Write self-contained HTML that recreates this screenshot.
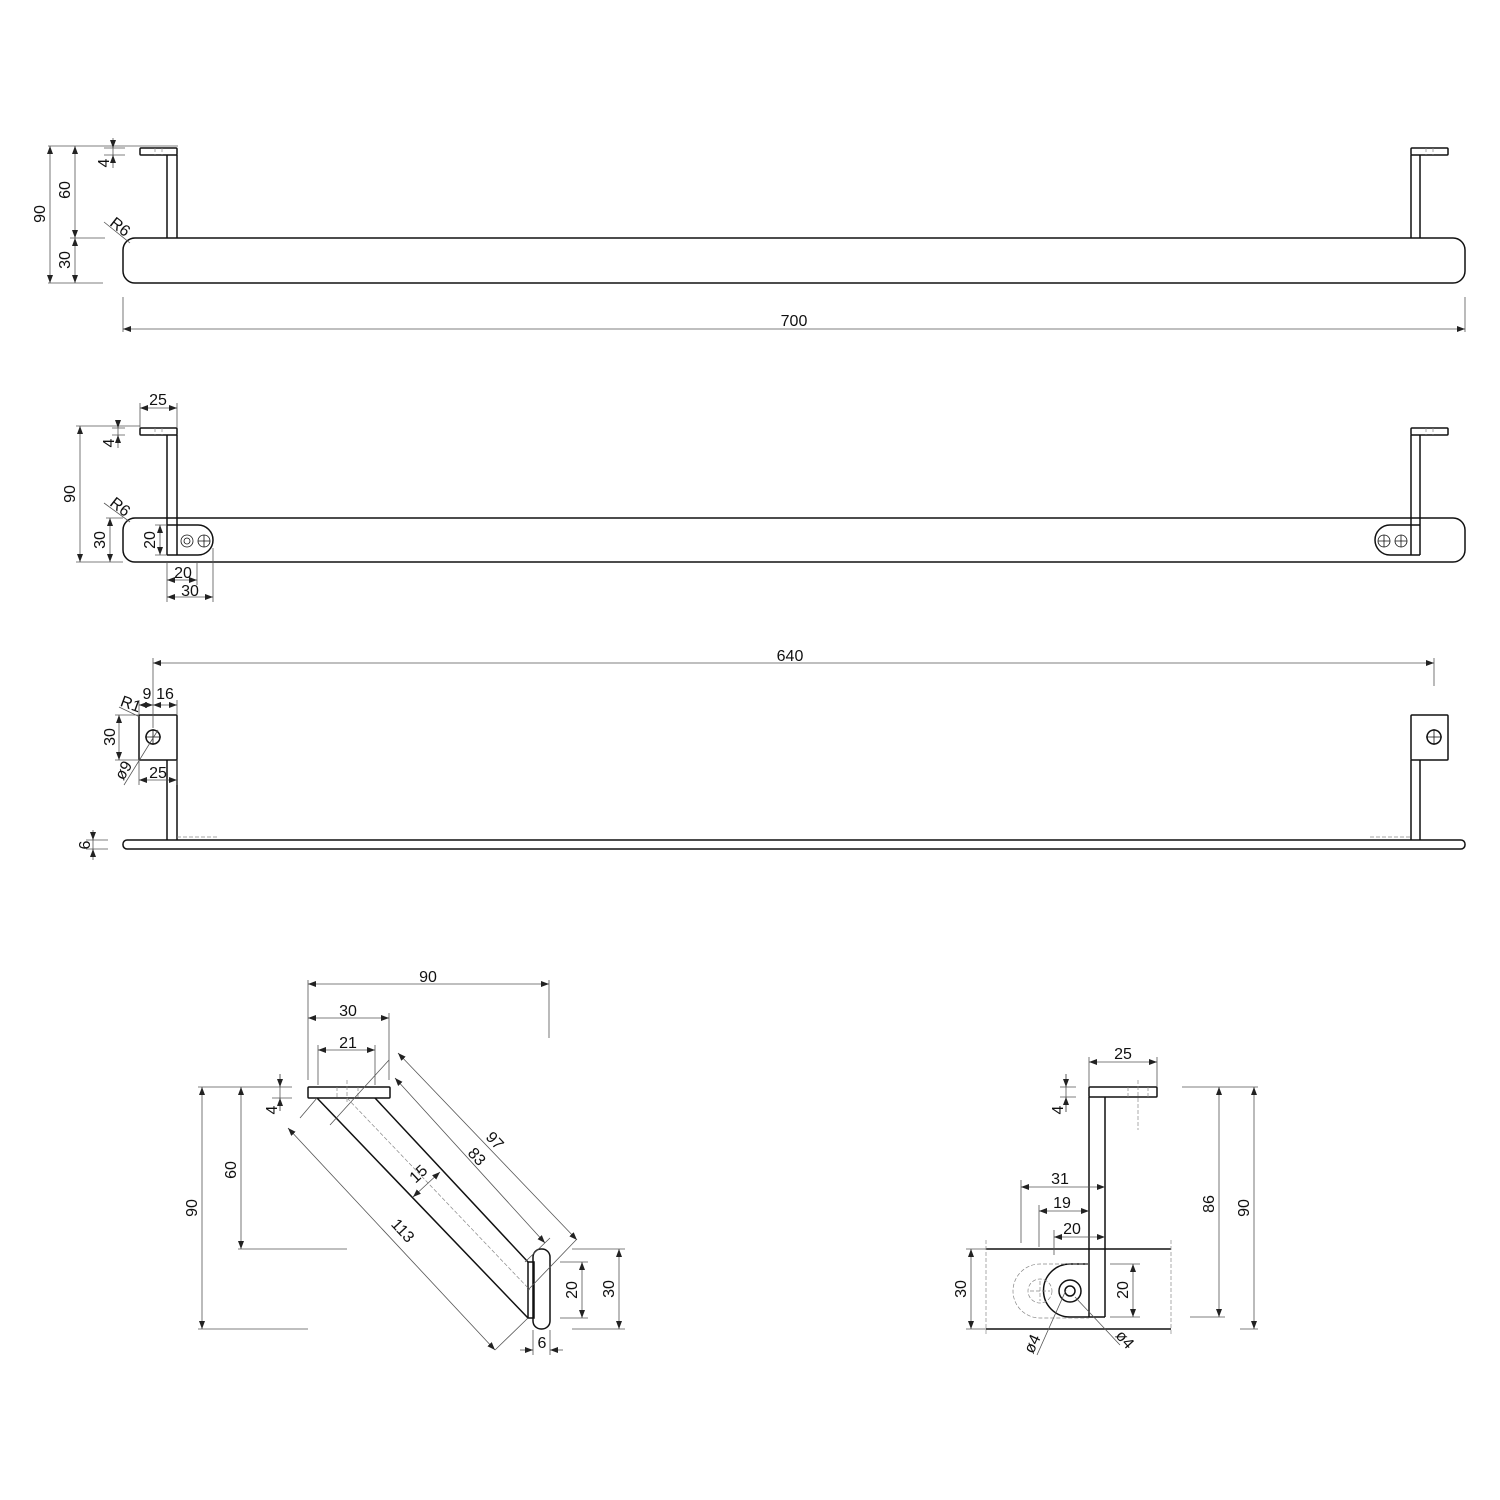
<!DOCTYPE html>
<html><head><meta charset="utf-8"><style>html,body{margin:0;padding:0;background:#fff}svg{display:block}text{font-family:"Liberation Sans",sans-serif;font-size:16px;fill:#111}</style></head>
<body>
<svg width="1500" height="1500" viewBox="0 0 1500 1500" xmlns="http://www.w3.org/2000/svg">
<defs>
<marker id="a" markerWidth="8" markerHeight="6" refX="8" refY="3" orient="auto-start-reverse" markerUnits="userSpaceOnUse"><path d="M0,0 L8,3 L0,6z" fill="#222"/></marker>
</defs>
<g fill="none" stroke="#111" stroke-width="1.5">
<rect x="123" y="238" width="1342" height="45" rx="12"/>
<rect x="140" y="148" width="37" height="7" rx="1"/>
<path d="M167,155V238M177,155V238"/>
<rect x="1411" y="148" width="37" height="7" rx="1"/>
<path d="M1411,155V238M1420,155V238"/>
<rect x="123" y="518" width="1342" height="44" rx="12"/>
<rect x="140" y="428" width="37" height="7" rx="1"/>
<path d="M167,435V555M177,435V555"/>
<path d="M167,525H198A15,15 0 0 1 198,555H167"/>
<rect x="1411" y="428" width="37" height="7" rx="1"/>
<path d="M1411,435V555M1420,435V555"/>
<path d="M1420,525H1390A15,15 0 0 0 1390,555H1420"/>
<rect x="123" y="840" width="1342" height="9" rx="4"/>
<rect x="139" y="715" width="38" height="45" rx="1"/>
<path d="M167,760V840M177,760V840"/>
<circle cx="153" cy="737" r="7"/>
<rect x="1411" y="715" width="37" height="45" rx="1"/>
<path d="M1411,760V840M1420,760V840"/>
<circle cx="1434" cy="737" r="7"/>
<rect x="308" y="1087" width="82" height="11" rx="1"/>
<path d="M317,1098L528,1318M375,1098L528,1262"/>
<rect x="528" y="1262" width="6" height="56"/>
<rect x="533" y="1249" width="17" height="80" rx="8"/>
<path d="M986,1249H1171M986,1329H1171"/>
<rect x="1089" y="1087" width="68" height="10" rx="1"/>
<path d="M1089,1097V1317M1105,1097V1317"/>
<path d="M1105,1317H1070A26.5,26.5 0 0 1 1070,1264H1089"/>
<circle cx="1070" cy="1291" r="11"/>
<circle cx="1070" cy="1291" r="5"/>
</g>
<g fill="none" stroke="#111" stroke-width="0.8">
<circle cx="187" cy="541" r="6"/><circle cx="187" cy="541" r="3"/><circle cx="204" cy="541" r="6"/>
<path d="M198,541h12M204,535v12"/>
<circle cx="1384" cy="541" r="6"/><path d="M1378,541h12M1384,535v12"/>
<circle cx="1401" cy="541" r="6"/><path d="M1395,541h12M1401,535v12"/>
<path d="M145,737h16M153,729v16M1426,737h16M1434,729v16"/>
</g>
<g fill="none" stroke="#888" stroke-width="0.7" stroke-dasharray="4,2">
<path d="M155,148v7M162,148v7M1426,148v7M1433,148v7M155,428v7M162,428v7M1426,428v7M1433,428v7"/>
<path d="M177,837h40M1370,837h40"/>
<path d="M347,1080v22M337,1087v11M358,1087v11M347,1098L530,1290"/>
<path d="M1138,1080v50M1128,1087v10M1148,1087v10"/>
<path d="M986,1240v95M1171,1240v95"/>
<path d="M1089,1264H1040A27,27 0 0 0 1040,1318H1089"/>
<circle cx="1040" cy="1291" r="12"/>
<path d="M1030,1291h20M1040,1281v20"/>
</g>
<g fill="none" stroke="#555" stroke-width="0.8">
<!-- extension lines -->
<path d="M48,146H178M70,238H105M48,283H103M104,148H125M104,155H125M104,222L130,243M123,297V332M1465,297V332"/>
<path d="M140,403V428M177,403V428M76,426H140M76,562H123M106,518H123M112,428H125M112,435H125M155,525H167M155,555H167M104,503L130,522M167,562V602M197,562V585M213,548V602"/>
<path d="M153,658V710M1434,658V686M139,700V715M153,700V728M177,700V715M119,707L140,717M115,715H139M115,760H139M124,785L158,730M139,760V785M177,760V785M86,840H108M86,849H108"/>
<path d="M308,980V1080M549,980V1038M389,1013V1080M318,1045V1085M375,1045V1085M198,1087H242M238,1087H282M198,1329H308M238,1249H347M272,1087H292M272,1098H292"/>
<path d="M389,1060L330,1125M576,1240L528,1290M550,1238L525,1262M300,1118L317,1098M495,1350L528,1318"/>
<path d="M560,1262H588M560,1318H588M572,1249H625M572,1329H625M533,1330V1355M550,1330V1355"/>
<path d="M1089,1057V1087M1157,1057V1087M1021,1180V1243M1039,1205V1247M1054,1230V1255M1060,1087H1076M1060,1097H1076"/>
<path d="M966,1249H986M966,1329H986M1110,1264H1140M1110,1317H1140M1182,1087H1258M1190,1317H1225M1240,1329H1258"/>
<path d="M1037,1355L1066,1290M1120,1345L1075,1297"/>
<path d="M113,138V168M118,420V448M93,830V860M280,1074V1111M1066,1074V1112"/>
</g>
<g fill="none" stroke="#555" stroke-width="0.8" marker-start="url(#a)" marker-end="url(#a)">
<path d="M50,146V283"/><path d="M75,146V238"/><path d="M75,238V283"/>
<path d="M123,329H1465"/>
<path d="M140,408H177"/><path d="M80,426V562"/><path d="M110,518V562"/><path d="M160,525V555"/>
<path d="M167,580H197"/><path d="M167,597H213"/>
<path d="M153,663H1434"/><path d="M139,705H153"/><path d="M153,705H177"/><path d="M119,715V760"/><path d="M139,780H177"/>
<path d="M308,984H549"/><path d="M308,1018H389"/><path d="M318,1050H375"/>
<path d="M202,1087V1329"/><path d="M241,1087V1249"/>
<path d="M398,1053L577,1240"/><path d="M395,1078L545,1243"/><path d="M288,1128L495,1350"/><path d="M413,1197L440,1172"/>
<path d="M582,1262V1318"/><path d="M619,1249V1329"/>
<path d="M1089,1062H1157"/><path d="M1021,1187H1105"/><path d="M1039,1211H1089"/><path d="M1054,1237H1105"/>
<path d="M971,1249V1329"/><path d="M1133,1264V1317"/><path d="M1219,1087V1317"/><path d="M1254,1087V1329"/>
</g>
<g fill="none" stroke="#555" stroke-width="0.8" marker-end="url(#a)">
<path d="M113,140V148"/><path d="M113,163V155"/>
<path d="M118,420V428"/><path d="M118,443V435"/>
<path d="M93,832V840"/><path d="M93,857V849"/>
<path d="M280,1074V1087"/><path d="M280,1111V1098"/>
<path d="M1066,1074V1087"/><path d="M1066,1112V1097"/>
<path d="M520,1350H533"/><path d="M563,1350H550"/>
</g>
<g>
<text x="113" y="163" transform="rotate(-90 113 163)" text-anchor="middle" dy="-4">4</text>
<text x="50" y="214" transform="rotate(-90 50 214)" text-anchor="middle" dy="-5">90</text>
<text x="75" y="190" transform="rotate(-90 75 190)" text-anchor="middle" dy="-5">60</text>
<text x="75" y="260" transform="rotate(-90 75 260)" text-anchor="middle" dy="-5">30</text>
<text x="117" y="231" transform="rotate(38 117 231)" text-anchor="middle">R6</text>
<text x="794" y="326" text-anchor="middle">700</text>
<text x="158" y="405" text-anchor="middle">25</text>
<text x="118" y="443" transform="rotate(-90 118 443)" text-anchor="middle" dy="-4">4</text>
<text x="80" y="494" transform="rotate(-90 80 494)" text-anchor="middle" dy="-5">90</text>
<text x="110" y="540" transform="rotate(-90 110 540)" text-anchor="middle" dy="-5">30</text>
<text x="160" y="540" transform="rotate(-90 160 540)" text-anchor="middle" dy="-5">20</text>
<text x="117" y="511" transform="rotate(38 117 511)" text-anchor="middle">R6</text>
<text x="183" y="578" text-anchor="middle">20</text>
<text x="190" y="596" text-anchor="middle">30</text>
<text x="790" y="661" text-anchor="middle">640</text>
<text x="147" y="699" text-anchor="middle">9</text>
<text x="165" y="699" text-anchor="middle">16</text>
<text x="129" y="709" transform="rotate(20 129 709)" text-anchor="middle">R1</text>
<text x="119" y="737" transform="rotate(-90 119 737)" text-anchor="middle" dy="-4">30</text>
<text x="128" y="773" transform="rotate(-60 128 773)" text-anchor="middle">ø9</text>
<text x="158" y="778" text-anchor="middle">25</text>
<text x="93" y="845" transform="rotate(-90 93 845)" text-anchor="middle" dy="-3">6</text>
<text x="428" y="982" text-anchor="middle">90</text>
<text x="348" y="1016" text-anchor="middle">30</text>
<text x="348" y="1048" text-anchor="middle">21</text>
<text x="280" y="1110" transform="rotate(-90 280 1110)" text-anchor="middle" dy="-3">4</text>
<text x="202" y="1208" transform="rotate(-90 202 1208)" text-anchor="middle" dy="-5">90</text>
<text x="241" y="1170" transform="rotate(-90 241 1170)" text-anchor="middle" dy="-5">60</text>
<text x="488" y="1147" transform="rotate(47 488 1147)" text-anchor="middle" dy="-4">97</text>
<text x="470" y="1163" transform="rotate(47 470 1163)" text-anchor="middle" dy="-4">83</text>
<text x="396" y="1237" transform="rotate(47 396 1237)" text-anchor="middle" dy="-4">113</text>
<text x="424" y="1180" transform="rotate(-43 424 1180)" text-anchor="middle" dy="-3">15</text>
<text x="582" y="1290" transform="rotate(-90 582 1290)" text-anchor="middle" dy="-5">20</text>
<text x="619" y="1289" transform="rotate(-90 619 1289)" text-anchor="middle" dy="-5">30</text>
<text x="542" y="1348" text-anchor="middle">6</text>
<text x="1123" y="1059" text-anchor="middle">25</text>
<text x="1066" y="1110" transform="rotate(-90 1066 1110)" text-anchor="middle" dy="-3">4</text>
<text x="1060" y="1184" text-anchor="middle">31</text>
<text x="1062" y="1208" text-anchor="middle">19</text>
<text x="1072" y="1234" text-anchor="middle">20</text>
<text x="971" y="1289" transform="rotate(-90 971 1289)" text-anchor="middle" dy="-5">30</text>
<text x="1133" y="1290" transform="rotate(-90 1133 1290)" text-anchor="middle" dy="-5">20</text>
<text x="1219" y="1204" transform="rotate(-90 1219 1204)" text-anchor="middle" dy="-5">86</text>
<text x="1254" y="1208" transform="rotate(-90 1254 1208)" text-anchor="middle" dy="-5">90</text>
<text x="1037" y="1346" transform="rotate(-65 1037 1346)" text-anchor="middle">ø4</text>
<text x="1121" y="1343" transform="rotate(48 1121 1343)" text-anchor="middle">ø4</text>
</g>
</svg>
</body></html>
